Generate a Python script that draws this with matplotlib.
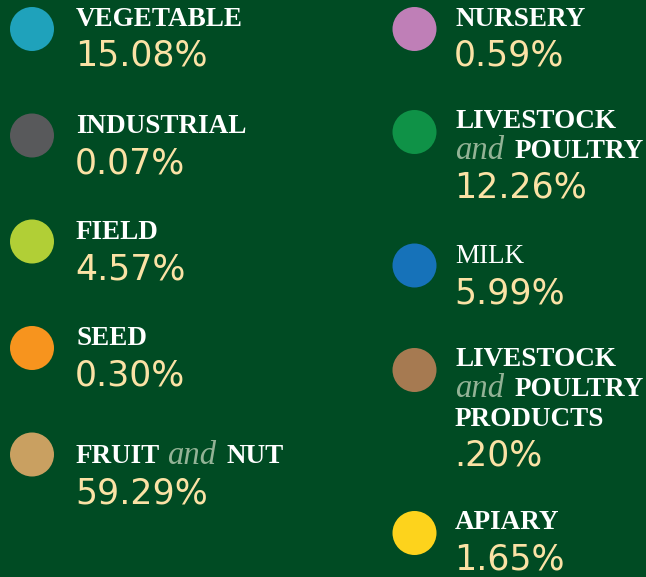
import matplotlib
matplotlib.use("Agg")
import matplotlib.pyplot as plt
from matplotlib.patches import Circle

# data
left_names = ["VEGETABLE", "INDUSTRIAL", "FIELD", "SEED", "FRUIT and NUT"]
left_pcts = ["15.08%", "0.07%", "4.57%", "0.30%", "59.29%"]
left_colors = ["#1fa2bb", "#58595b", "#b1cf36", "#f7941e", "#c9a061"]

right_names = ["NURSERY", "LIVESTOCK\nand POULTRY", "MILK",
               "LIVESTOCK\nand POULTRY\nPRODUCTS", "APIARY"]
right_pcts = ["0.59%", "12.26%", "5.99%", ".20%", "1.65%"]
right_colors = ["#bf7fb7", "#0f9247", "#1672b9", "#a67a51", "#fdd31c"]

# layout (pixels, y down)
BG = "#004b23"
LABEL_C = "#ffffff"
AND_C = "#93b396"
PCT_C = "#fbe2a5"
LINE_H = 30
PCT_GAP = 40

left_layout = dict(cx=32, tx=76, base=[26, 133, 239, 345, 463],
                   cy=[29, 135.5, 241.5, 348, 454.5])
right_layout = dict(cx=414.5, tx=455, base=[26, 128, 263, 366, 529],
                    cy=[29, 132, 265.5, 370, 533])

fig = plt.figure(figsize=(6.46, 5.77), dpi=100, facecolor=BG)
ax = fig.add_axes([0, 0, 1, 1])
ax.set_xlim(0, 646)
ax.set_ylim(577, 0)
ax.set_facecolor(BG)
ax.axis("off")
renderer = fig.canvas.get_renderer()


def draw_line(x, y, line, weight):
    for w in line.split(" "):
        if w == "and":
            t = ax.text(x, y + 1, w, color=AND_C, fontsize=23.5,
                        family="Liberation Serif", style="italic",
                        va="baseline", ha="left")
            gap = 10
        else:
            t = ax.text(x, y, w, color=LABEL_C, fontsize=19.5,
                        family="Liberation Serif", weight=weight,
                        va="baseline", ha="left")
            gap = 7
        bb = t.get_window_extent(renderer)
        x = ax.transData.inverted().transform((bb.x1, bb.y0))[0] + gap


def draw_column(names, pcts, colors, lay):
    for i, (name, pct, col) in enumerate(zip(names, pcts, colors)):
        ax.add_patch(Circle((lay["cx"], lay["cy"][i]), 22, color=col, lw=0))
        y = lay["base"][i]
        weight = "normal" if name == "MILK" else "bold"
        for line in name.split("\n"):
            draw_line(lay["tx"], y, line, weight)
            y += LINE_H
        y += PCT_GAP - LINE_H
        ax.text(lay["tx"] - 1, y, pct, color=PCT_C, fontsize=25,
                family="DejaVu Sans", va="baseline", ha="left")


draw_column(left_names, left_pcts, left_colors, left_layout)
draw_column(right_names, right_pcts, right_colors, right_layout)

fig.savefig("out.png", dpi=100, facecolor=BG)
